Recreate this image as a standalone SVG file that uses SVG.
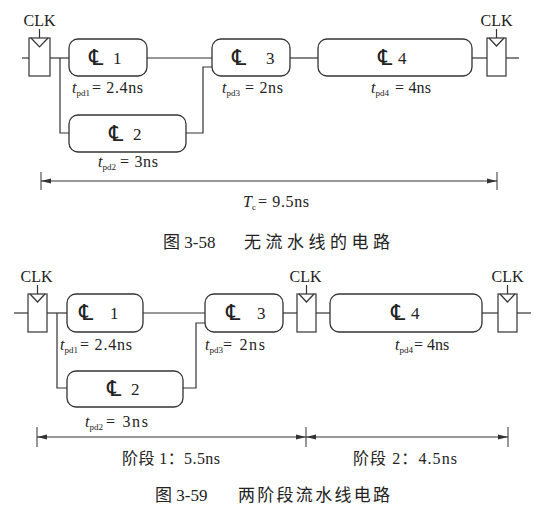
<svg xmlns="http://www.w3.org/2000/svg" width="545" height="514" viewBox="0 0 545 514">
<style>
.w{fill:none;stroke:#333;stroke-width:1.2}
.box{fill:#fff;stroke:#333;stroke-width:1.3}
.reg{fill:#fff;stroke:#333;stroke-width:1.2}
.t{font-family:"Liberation Serif","DejaVu Serif",serif;fill:#222;font-size:16px}
.clk{font-family:"Liberation Serif","DejaVu Serif",serif;fill:#222;font-size:16px;text-anchor:middle}
.cl{font-family:"DejaVu Serif","DejaVu Sans",serif;font-size:22px;fill:#222}
.num{font-family:"Liberation Serif","DejaVu Serif",serif;font-size:17px;fill:#222}
.cap{font-family:"Liberation Serif","Noto Sans CJK SC",sans-serif;fill:#222}
.dim{fill:none;stroke:#333;stroke-width:1}
.it{font-style:italic}
.sub{font-size:9px}
</style>
<defs>
<marker id="ah" markerUnits="userSpaceOnUse" markerWidth="10" markerHeight="6" refX="10" refY="3" orient="auto-start-reverse">
<path d="M0,0.5 L10,3 L0,5.5 z" fill="#333"/>
</marker>
</defs>

<!-- ===== Figure 3-58 ===== -->
<g id="connectors-top">
<path class="w" d="M22,58 H29"/>
<path class="w" d="M50,58 H69"/>
<path class="w" d="M60,58 V133 H69"/>
<path class="w" d="M147,58 H212"/>
<path class="w" d="M186,133 H203 V67 H212"/>
<path class="w" d="M290,58 H318"/>
<path class="w" d="M472,58 H487"/>
<path class="w" d="M506,58 H519"/>
</g>

<g id="reg-top-1">
<rect class="reg" x="29" y="38" width="21" height="38"/>
<polyline class="w" points="31,38 39.5,47 48,38"/>
<path class="w" d="M39.5,29 V38"/>
<text class="clk" x="39.5" y="26">CLK</text>
</g>
<g id="reg-top-2">
<rect class="reg" x="487" y="38" width="19" height="38"/>
<polyline class="w" points="489,38 496.5,46 504,38"/>
<path class="w" d="M496.5,29 V38"/>
<text class="clk" x="496.5" y="26">CLK</text>
</g>

<g id="cl1-top">
<rect class="box" x="69" y="39" width="78" height="37" rx="9"/>
<text class="cl" x="89" y="65">℄</text><text class="num" x="113" y="64">1</text>
<text class="t" x="72" y="93"><tspan class="it">t</tspan><tspan class="sub" dy="3">pd1</tspan></text>
<text class="t" x="92" y="93" textLength="51" lengthAdjust="spacing">= 2.4ns</text>
</g>
<g id="cl2-top">
<rect class="box" x="69" y="115" width="117" height="37" rx="9"/>
<text class="cl" x="109" y="141">℄</text><text class="num" x="133" y="140">2</text>
<text class="t" x="98" y="167"><tspan class="it">t</tspan><tspan class="sub" dy="3">pd2</tspan></text>
<text class="t" x="120" y="167" textLength="38" lengthAdjust="spacing">= 3ns</text>
</g>
<g id="cl3-top">
<rect class="box" x="212" y="39" width="78" height="37" rx="9"/>
<text class="cl" x="232" y="65">℄</text><text class="num" x="266" y="64">3</text>
<text class="t" x="222" y="93"><tspan class="it">t</tspan><tspan class="sub" dy="3">pd3</tspan></text>
<text class="t" x="245" y="93" textLength="38" lengthAdjust="spacing">= 2ns</text>
</g>
<g id="cl4-top">
<rect class="box" x="318" y="39" width="154" height="37" rx="9"/>
<text class="cl" x="378" y="65">℄</text><text class="num" x="398" y="64">4</text>
<text class="t" x="371" y="93"><tspan class="it">t</tspan><tspan class="sub" dy="3">pd4</tspan></text>
<text class="t" x="395" y="93" textLength="36" lengthAdjust="spacing">= 4ns</text>
</g>

<g id="dim-top">
<path class="dim" d="M41,172 V190 M497,172 V190"/>
<path class="dim" d="M41,181 H497" marker-start="url(#ah)" marker-end="url(#ah)"/>
<text class="t" x="243" y="207"><tspan class="it">T</tspan><tspan class="sub" dy="3">c</tspan></text>
<text class="t" x="258" y="207" textLength="51" lengthAdjust="spacing">= 9.5ns</text>
</g>

<g id="caption-1">
<text class="cap" x="163" y="248" font-size="17">图 3-58</text>
<text class="cap" x="244" y="248" font-size="17" textLength="146" lengthAdjust="spacing">无流水线的电路</text>
</g>

<!-- ===== Figure 3-59 ===== -->
<g id="connectors-bottom">
<path class="w" d="M14,313 H28"/>
<path class="w" d="M47,313 H67"/>
<path class="w" d="M57,313 V388 H67"/>
<path class="w" d="M143,313 H205"/>
<path class="w" d="M183,388 H196 V323 H205"/>
<path class="w" d="M283,313 H297"/>
<path class="w" d="M316,313 H330"/>
<path class="w" d="M482,313 H498"/>
<path class="w" d="M517,313 H531"/>
</g>

<g id="reg-bot-1">
<rect class="reg" x="28" y="294" width="19" height="38"/>
<polyline class="w" points="30,294 37.5,302 45,294"/>
<path class="w" d="M37.5,285 V294"/>
<text class="clk" x="36.5" y="282">CLK</text>
</g>
<g id="reg-bot-2">
<rect class="reg" x="297" y="294" width="19" height="38"/>
<polyline class="w" points="299,294 306.5,302 314,294"/>
<path class="w" d="M306.5,285 V294"/>
<text class="clk" x="305.5" y="282">CLK</text>
</g>
<g id="reg-bot-3">
<rect class="reg" x="498" y="294" width="19" height="38"/>
<polyline class="w" points="500,294 507.5,302 515,294"/>
<path class="w" d="M507.5,285 V294"/>
<text class="clk" x="507.5" y="282">CLK</text>
</g>

<g id="cl1-bot">
<rect class="box" x="67" y="294" width="76" height="38" rx="9"/>
<text class="cl" x="79" y="320">℄</text><text class="num" x="110" y="319">1</text>
<text class="t" x="60" y="350"><tspan class="it">t</tspan><tspan class="sub" dy="3">pd1</tspan></text>
<text class="t" x="80" y="350" textLength="52" lengthAdjust="spacing">= 2.4ns</text>
</g>
<g id="cl2-bot">
<rect class="box" x="67" y="371" width="116" height="36" rx="9"/>
<text class="cl" x="107" y="396">℄</text><text class="num" x="131" y="395">2</text>
<text class="t" x="85" y="427"><tspan class="it">t</tspan><tspan class="sub" dy="3">pd2</tspan></text>
<text class="t" x="106" y="427" textLength="42" lengthAdjust="spacing">= 3ns</text>
</g>
<g id="cl3-bot">
<rect class="box" x="205" y="294" width="78" height="38" rx="9"/>
<text class="cl" x="226" y="320">℄</text><text class="num" x="257" y="319">3</text>
<text class="t" x="205" y="350"><tspan class="it">t</tspan><tspan class="sub" dy="3">pd3</tspan></text>
<text class="t" x="223" y="350" textLength="42" lengthAdjust="spacing">= 2ns</text>
</g>
<g id="cl4-bot">
<rect class="box" x="330" y="294" width="152" height="38" rx="9"/>
<text class="cl" x="391" y="320">℄</text><text class="num" x="411" y="319">4</text>
<text class="t" x="395" y="350" font-size="14"><tspan class="it">t</tspan><tspan class="sub" dy="3" font-size="8">pd4</tspan></text>
<text class="t" x="414" y="350" font-size="14">= 4ns</text>
</g>

<g id="dim-bottom">
<path class="dim" d="M37,427 V447 M306,427 V447 M508,427 V447"/>
<path class="dim" d="M37,437 H306" marker-start="url(#ah)" marker-end="url(#ah)"/>
<path class="dim" d="M306,437 H508" marker-start="url(#ah)" marker-end="url(#ah)"/>
<text class="cap" x="122" y="464" font-size="16" textLength="98" lengthAdjust="spacing">阶段 1：5.5ns</text>
<text class="cap" x="353" y="464" font-size="16" textLength="104" lengthAdjust="spacing">阶段 2：4.5ns</text>
</g>

<g id="caption-2">
<text class="cap" x="155" y="501" font-size="17">图 3-59</text>
<text class="cap" x="238" y="501" font-size="17" textLength="152" lengthAdjust="spacing">两阶段流水线电路</text>
</g>
</svg>
